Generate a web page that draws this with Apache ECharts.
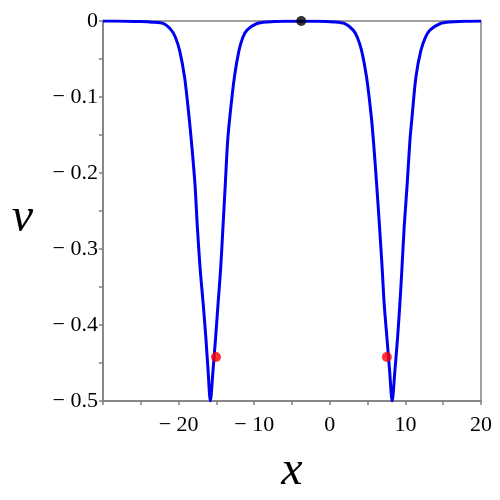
<!DOCTYPE html>
<html>
<head>
<meta charset="utf-8">
<script src="https://cdn.jsdelivr.net/npm/echarts@6/dist/echarts.min.js"></script>
<style>
  html, body { margin: 0; padding: 0; background: #fff; }
  #chart { width: 500px; height: 500px; }
</style>
</head>
<body>
<div id="chart"></div>
<script>
// curve, x and v in pairs
var curveX = [-30, -27, -25, -23.5, -21.99, -20.97, -20.44, -19.87, -19.21, -18.64, -18.3, -17.84, -17.52, -17.15, -16.75, -16.4, -16.1, -15.8,
  -15.45, -15.1, -14.78, -14.44, -14.13, -13.82, -13.52, -13.2, -12.62, -12.01, -11.48, -10.95, -9.71, -8.2, -6, -3.8, -1.5, 0.5,
  1.99, 3.09, 3.62, 4.2, 4.86, 5.47, 5.79, 6.19, 6.58, 6.93, 7.19, 7.55, 7.91, 8.25,
  8.61, 8.97, 9.27, 9.54, 9.84, 10.24, 10.6, 10.9, 11.39, 12.05, 12.68, 13.25, 14.57, 16, 18, 20];
var curveV = [-0.0001, -0.0002, -0.0006, -0.0015, -0.0036, -0.012, -0.021, -0.0386, -0.0738, -0.124, -0.159, -0.214, -0.271, -0.326, -0.372, -0.416, -0.46, -0.5,
  -0.46, -0.416, -0.372, -0.326, -0.271, -0.214, -0.159, -0.124, -0.0738, -0.0386, -0.021, -0.012, -0.0036, -0.0012, -0.0003, -0.0002, -0.0003, -0.0012,
  -0.0036, -0.012, -0.021, -0.0386, -0.0738, -0.124, -0.16, -0.214, -0.271, -0.326, -0.372, -0.416, -0.46, -0.5,
  -0.46, -0.416, -0.372, -0.326, -0.271, -0.214, -0.157, -0.124, -0.0738, -0.0386, -0.021, -0.012, -0.0036, -0.0013, -0.0004, -0.0001];

var redX = [-15.05, 7.55];
var redV = [-0.442, -0.442];
var blackX = [-3.78];
var blackV = [0];

var xTicks = [-30, -20, -10, 0, 10, 20];
var xTickLabels = ['', '\u2212 20', '\u2212 10', '0', '10', '20'];
var yTicks = [0, -0.1, -0.2, -0.3, -0.4, -0.5];
var yTickLabels = ['0', '\u2212 0.1', '\u2212 0.2', '\u2212 0.3', '\u2212 0.4', '\u2212 0.5'];

function pairs(xs, ys) {
  return xs.map(function (x, i) { return [x, ys[i]]; });
}
function tickLabel(ticks, labels) {
  return function (v) {
    for (var i = 0; i < ticks.length; i++) {
      if (Math.abs(ticks[i] - v) < 1e-6) return labels[i];
    }
    return '';
  };
}

var font = 'Liberation Serif';
var gray = '#808080';
var nameStyle = { fontFamily: font, fontStyle: 'italic', fontSize: 48, color: '#000' };

var chart = echarts.init(document.getElementById('chart'));
chart.setOption({
  animation: false,
  grid: {
    left: 103, top: 21, width: 378, height: 380, outerBoundsMode: 'none', containLabel: false,
    show: true, borderColor: gray, borderWidth: 1.5
  },
  xAxis: {
    type: 'value', min: -30, max: 20, interval: 10,
    name: 'x', nameLocation: 'middle', nameGap: 46,
    nameTextStyle: nameStyle,
    axisLine: { onZero: false, lineStyle: { color: gray, width: 1.5 } },
    axisTick: { length: 4, lineStyle: { color: gray, width: 1.5 } },
    minorTick: { show: true, splitNumber: 2, length: 4, lineStyle: { color: gray, width: 1.5 } },
    splitLine: { show: false },
    axisLabel: { fontFamily: font, fontSize: 22, color: '#000', margin: 13, formatter: tickLabel(xTicks, xTickLabels) }
  },
  yAxis: {
    type: 'value', min: -0.5, max: 0, interval: 0.1,
    name: '{v|v}', nameLocation: 'middle', nameRotate: 0, nameGap: 70,
    nameTextStyle: { fontFamily: font, color: '#000', rich: { v: { fontFamily: font, fontStyle: 'italic', fontSize: 48, color: '#000', padding: [14, 0, 0, 0] } } },
    axisLine: { onZero: false, lineStyle: { color: gray, width: 1.5 } },
    axisTick: { length: 4, lineStyle: { color: gray, width: 1.5 } },
    minorTick: { show: true, splitNumber: 2, length: 4, lineStyle: { color: gray, width: 1.5 } },
    splitLine: { show: false },
    axisLabel: { fontFamily: font, fontSize: 22, color: '#000', margin: 5, formatter: tickLabel(yTicks, yTickLabels) }
  },
  series: [
    {
      type: 'line', data: pairs(curveX, curveV), showSymbol: false,
      smooth: 0.3,
      lineStyle: { color: '#0000f0', width: 3 }, z: 2
    },
    {
      type: 'scatter', data: pairs(redX, redV), symbolSize: 10,
      itemStyle: { color: '#ff0000' }, z: 3
    },
    {
      type: 'scatter', data: pairs(blackX, blackV), symbolSize: 10,
      itemStyle: { color: '#000000' }, z: 3
    }
  ]
});
</script>
</body>
</html>
